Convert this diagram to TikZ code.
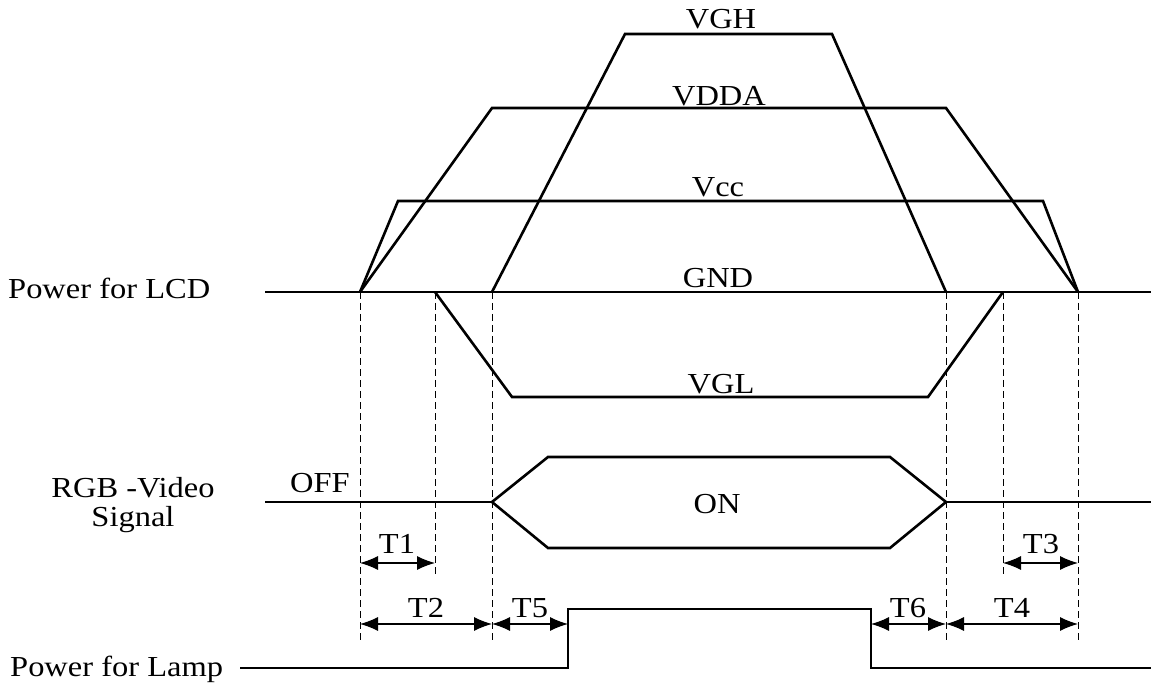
\documentclass[tikz,border=0pt]{standalone}
\usepackage{fontspec}
\setmainfont{Liberation Serif}[FakeStretch=1.12]
\usetikzlibrary{arrows.meta}
\begin{document}
\begin{tikzpicture}[x=1pt,y=-1pt,
  sig/.style={line width=2.6pt,line join=miter},
  guide/.style={line width=0.9pt,dash pattern=on 7pt off 4pt},
  dim/.style={line width=1.1pt,{Latex[length=18pt,width=14pt]}-{Latex[length=18pt,width=14pt]}},
  lbl/.style={font=\fontsize{29}{32}\selectfont,inner sep=0pt,anchor=base},
  side/.style={font=\fontsize{29}{32}\selectfont,inner sep=0pt,anchor=base west}]
\useasboundingbox (0,0) rectangle (1151,684);
% key points on GND
\coordinate (a) at (360,292);
\coordinate (b) at (435,292);
\coordinate (c) at (492,292);
\coordinate (d) at (946,292);
\coordinate (e) at (1003,292);
\coordinate (f) at (1078,292);
% Power for LCD
\draw[sig] (265,292) -- (1151,292);
\draw[sig] (a) -- (398,201) -- (1043,201) -- (f);
\draw[sig] (a) -- (492,108) -- (946,108) -- (f);
\draw[sig] (c) -- (625,34) -- (832,34) -- (d);
\draw[sig] (b) -- (512,397) -- (928,397) -- (e);
\node[lbl] (vgh) at (721,29) {VGH};
\node[lbl] (vdda) at (719,106) {VDDA};
\node[lbl] (vcc) at (718,197) {Vcc};
\node[lbl] (gnd) at (718,288) {GND};
\node[lbl] (vgl) at (721,393) {VGL};
\node[side] (plcd) at (8,299) {Power for LCD};
% RGB video
\coordinate (r1) at (492,502);
\coordinate (r2) at (946,502);
\draw[sig] (265,502) -- (r1);
\draw[sig] (r2) -- (1151,502);
\draw[sig] (r1) -- (548,457) -- (890,457) -- (r2) -- (890,548) -- (548,548) -- cycle;
\node[lbl] (off) at (320,492) {OFF};
\node[lbl] (on) at (717,513) {ON};
\node[lbl] (rgb) at (133,497) {RGB -Video};
\node[lbl] (signal) at (133,526) {Signal};
% Lamp
\coordinate (l1) at (568,668);
\coordinate (l2) at (568,609);
\coordinate (l3) at (871,609);
\coordinate (l4) at (871,668);
\draw[sig] (240,668) -- (l1) -- (l2) -- (l3) -- (l4) -- (1151,668);
\node[side] (plamp) at (10,676) {Power for Lamp};
% guide lines
\coordinate (ga) at (360,640);
\coordinate (gb) at (435,575);
\coordinate (gc) at (492,640);
\coordinate (gd) at (946,640);
\coordinate (ge) at (1003,575);
\coordinate (gf) at (1078,640);
\draw[guide] (a) -- (ga);
\draw[guide] (b) -- (gb);
\draw[guide] (c) -- (gc);
\draw[guide] (d) -- (gd);
\draw[guide] (e) -- (ge);
\draw[guide] (f) -- (gf);
% dimensions
\coordinate (t1a) at (360,563); \coordinate (t1b) at (435,563);
\coordinate (t3a) at (1003,563); \coordinate (t3b) at (1078,563);
\coordinate (t2a) at (360,624); \coordinate (t2b) at (492,624);
\coordinate (t5b) at (568,624);
\coordinate (t6a) at (871,624); \coordinate (t6b) at (946,624);
\coordinate (t4b) at (1078,624);
\draw[dim] (t1a) -- (t1b);
\draw[dim] (t3a) -- (t3b);
\draw[dim] (t2a) -- (t2b);
\draw[dim] (t2b) -- (t5b);
\draw[dim] (t6a) -- (t6b);
\draw[dim] (t6b) -- (t4b);
\node[lbl] (T1) at (397,553) {T1};
\node[lbl] (T3) at (1041,553) {T3};
\node[lbl] (T2) at (426,617) {T2};
\node[lbl] (T5) at (530,617) {T5};
\node[lbl] (T6) at (908,617) {T6};
\node[lbl] (T4) at (1012,617) {T4};
\end{tikzpicture}
\end{document}
